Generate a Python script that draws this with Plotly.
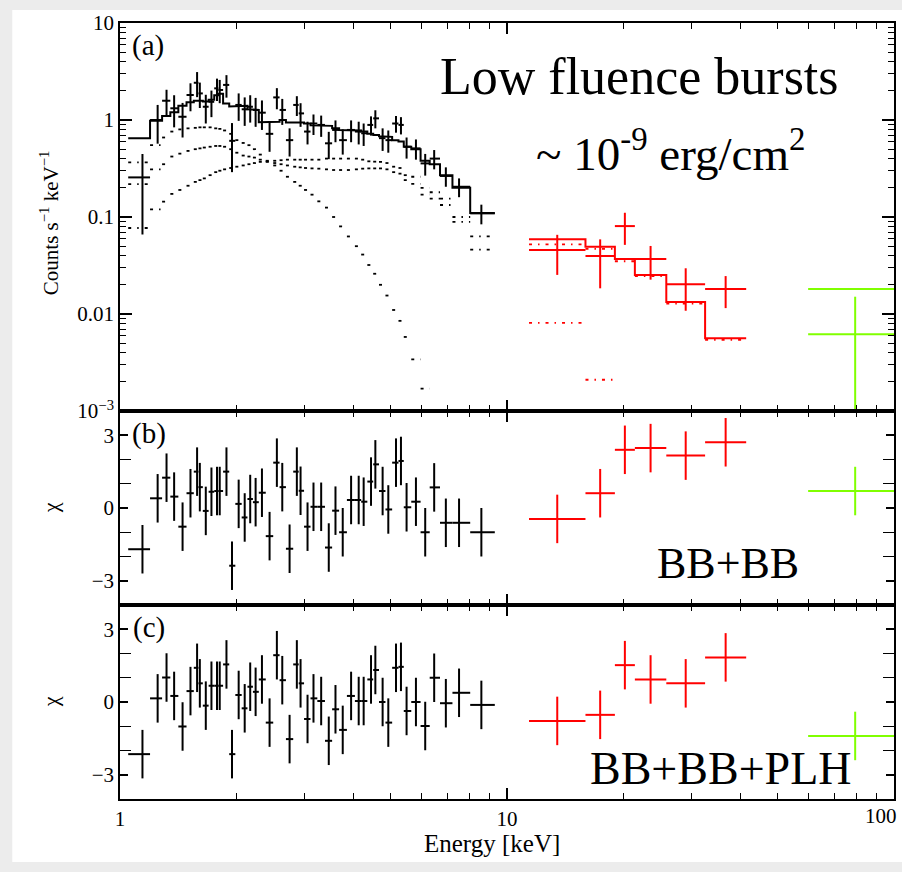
import numpy as np
import plotly.graph_objects as go
from plotly.subplots import make_subplots

# ---------------- data: soft instrument (black) ----------------
e_black = [1.143, 1.251, 1.319, 1.380, 1.451, 1.521, 1.582, 1.608, 1.666, 1.723,
           1.781, 1.810, 1.884, 1.947, 2.026, 2.100, 2.170, 2.241, 2.327, 2.435,
           2.543, 2.626, 2.743, 2.864, 2.928, 3.052, 3.162, 3.310, 3.463, 3.604,
           3.763, 3.955, 4.138, 4.262, 4.453, 4.569, 4.771, 4.935, 5.166, 5.321,
           5.502, 5.817, 6.147, 6.484, 6.950, 7.518, 8.585]
black_first_lo = 1.05
black_last_hi = 9.3
rate_black = [0.256, 1.00, 1.58, 1.32, 1.08, 1.81, 2.42, 1.88, 1.37, 1.54,
              2.12, 2.04, 2.30, 0.61, 1.43, 1.29, 1.37, 1.27, 1.19, 0.72,
              1.71, 1.27, 0.62, 1.43, 1.17, 0.76, 0.92, 0.89, 0.575, 0.79,
              0.62, 0.79, 0.76, 0.73, 0.89, 1.04, 0.65, 0.62, 0.92, 0.89,
              0.53, 0.51, 0.357, 0.40, 0.265, 0.205, 0.109]
err_black = [0.19, 0.43, 0.47, 0.48, 0.42, 0.58, 0.70, 0.55, 0.45, 0.47,
             0.55, 0.55, 0.60, 0.32, 0.45, 0.42, 0.43, 0.42, 0.40, 0.25,
             0.42, 0.38, 0.20, 0.33, 0.32, 0.20, 0.22, 0.22, 0.18, 0.20,
             0.18, 0.20, 0.20, 0.19, 0.20, 0.22, 0.17, 0.16, 0.18, 0.18,
             0.13, 0.12, 0.09, 0.09, 0.06, 0.045, 0.025]
model_black = [0.65, 0.98, 1.10, 1.20, 1.40, 1.52, 1.58, 1.58, 1.55, 1.62,
               1.80, 1.87, 1.48, 1.38, 1.40, 1.40, 1.29, 1.27, 0.95, 0.95,
               0.96, 1.00, 0.94, 0.94, 0.94, 0.92, 0.88, 0.87, 0.87, 0.82,
               0.79, 0.78, 0.78, 0.76, 0.72, 0.70, 0.68, 0.67, 0.62, 0.60,
               0.53, 0.50, 0.38, 0.35, 0.27, 0.20, 0.11]
comp_cool = [0.366, 0.55, 0.66, 0.76, 0.80, 0.82, 0.83, 0.84, 0.84, 0.84,
             0.82, 0.81, 0.78, 0.72, 0.62, 0.58, 0.55, 0.50, 0.44, 0.38,
             0.34, 0.30, 0.26, 0.23, 0.21, 0.19, 0.17, 0.145, 0.125, 0.10,
             0.08, 0.063, 0.05, 0.041, 0.032, 0.026, 0.02, 0.0155, 0.011, 0.0085,
             0.0058, 0.0034, 0.0017, None, None, None, None]
comp_mid = [0.218, 0.31, 0.35, 0.42, 0.45, 0.48, 0.50, 0.51, 0.52, 0.53,
            0.54, 0.54, 0.53, 0.50, 0.46, 0.43, 0.42, 0.41, 0.39, 0.37,
            0.36, 0.35, 0.34, 0.33, 0.325, 0.32, 0.317, 0.315, 0.31, 0.305,
            0.305, 0.305, 0.31, 0.315, 0.317, 0.317, 0.317, 0.31, 0.29, 0.28,
            0.24, 0.22, 0.17, 0.155, 0.133, 0.089, 0.046]
comp_hot = [0.077, 0.12, 0.144, 0.173, 0.19, 0.21, 0.23, 0.24, 0.25, 0.27,
            0.29, 0.30, 0.31, 0.32, 0.33, 0.34, 0.35, 0.36, 0.37, 0.375,
            0.38, 0.385, 0.39, 0.39, 0.39, 0.39, 0.39, 0.39, 0.40, 0.40,
            0.40, 0.40, 0.40, 0.39, 0.375, 0.372, 0.37, 0.36, 0.33, 0.32,
            0.27, 0.26, 0.20, 0.18, 0.155, 0.10, 0.063]
chi_b_black = [-1.70, 0.40, 1.25, 0.47, -0.77, 0.61, 1.50, 0.86, -0.12, 0.67,
               0.70, 0.70, 1.50, -2.38, 0.17, -0.39, 0.37, 0.24, 0.63, -1.16,
               1.87, 0.86, -1.68, 1.50, 0.71, -0.77, 0.05, 0.05, -1.63, -0.11,
               -1.00, 0.33, 0.33, 0.26, 1.09, 1.80, 0.70, -0.06, 1.87, 1.94,
               0.03, 0.26, -1.00, 0.85, -0.61, -0.61, -1.00]
chi_c_black = [-2.15, 0.15, 1.01, 0.25, -1.01, 0.45, 1.41, 0.77, -0.15, 0.67,
               0.67, 0.67, 1.55, -2.15, 0.29, -0.26, 0.63, 0.42, 0.93, -0.85,
               1.93, 0.90, -1.53, 1.55, 0.77, -0.70, 0.15, 0.04, -1.60, -0.30,
               -1.15, 0.25, 0.04, 0.04, 0.93, 1.32, 0.00, -0.85, 1.41, 1.45,
               -0.37, 0.00, -0.99, 1.00, -0.05, 0.38, -0.12]

# ---------------- data: hard instrument (red) ----------------
red_edges = [11.4, 15.95, 19.0, 21.4, 25.8, 32.5, 41.5]
rate_red = [0.0458, 0.0396, 0.0806, 0.0368, 0.0203, 0.0181]
err_red_up = [0.0197, 0.0192, 0.030, 0.0135, 0.0093, 0.0065]
err_red_dn = [0.0205, 0.0212, 0.029, 0.0142, 0.0095, 0.0066]
model_red = [0.0588, 0.0494, 0.0368, 0.0253, 0.0133, 0.00564]
comp_red_a = [0.0523, 0.047, 0.035, 0.0246, 0.0128, 0.0054]
comp_red_b = [0.0081, 0.0021, None, None, None, None]
chi_b_red = [-0.45, 0.61, 2.40, 2.47, 2.16, 2.71]
chi_c_red = [-0.78, -0.53, 1.52, 0.93, 0.77, 1.84]

# ---------------- data: highest-energy instrument (green) ----------------
green_edges = [60.0, 105.0]
rate_green = [0.00618]
err_green_up = [0.0089]
err_green_dn = [0.0060]
model_green = [0.0181]
chi_b_green = [0.70]
chi_c_green = [-1.40]

# x tick labels
x_tick_vals = [1, 10, 100]
x_tick_text = ["1", "10", "100"]

# ---------------- helpers ----------------
W, H = 902, 872
L, R, T, B = 120, 6, 23, 73
PW, PH = W - L - R, H - T - B


def px(x):
    return (x - L) / PW


def py(y):
    return (H - B - y) / PH


c_black = np.array(e_black)
mids = np.sqrt(c_black[:-1] * c_black[1:])
lo_black = np.concatenate([[black_first_lo], mids])
hi_black = np.concatenate([mids, [black_last_hi]])

re = np.array(red_edges)
lo_red, hi_red = re[:-1], re[1:]
c_red = np.sqrt(lo_red * hi_red)

ge = np.array(green_edges)
lo_green, hi_green = ge[:-1], ge[1:]
c_green = np.sqrt(lo_green * hi_green)


def step(lo, hi, vals, verticals=True):
    xs, ys = [], []
    for a, b, v in zip(lo, hi, vals):
        if v is None:
            xs += [None]
            ys += [None]
            continue
        xs += [a, b]
        ys += [v, v]
        if not verticals:
            xs += [None]
            ys += [None]
    return xs, ys


def cross(c, lo, hi, y, eu, ed, color):
    return go.Scatter(
        x=c, y=y, mode="markers",
        marker=dict(size=1, color=color, opacity=0),
        error_x=dict(type="data", symmetric=False, array=hi - c,
                     arrayminus=c - lo, width=0, thickness=2, color=color),
        error_y=dict(type="data", symmetric=False, array=eu,
                     arrayminus=ed, width=0, thickness=2, color=color),
        showlegend=False, hoverinfo="skip", cliponaxis=True)


BLACK, RED, GREEN = "#000000", "#ff0000", "#80ff00"
DOTS = "3px,6px,1.5px,6px"

fig = make_subplots(rows=3, cols=1, shared_xaxes=True, vertical_spacing=0,
                    row_heights=[0.5, 0.25, 0.25])

# ---- panel (a) ----
for comp in (comp_cool, comp_mid, comp_hot):
    xs, ys = step(lo_black, hi_black, comp, verticals=False)
    fig.add_trace(go.Scatter(x=xs, y=ys, mode="lines",
                             line=dict(color=BLACK, width=1.8, dash=DOTS),
                             showlegend=False, hoverinfo="skip"), row=1, col=1)
for comp in (comp_red_a, comp_red_b):
    xs, ys = step(lo_red, hi_red, comp, verticals=False)
    fig.add_trace(go.Scatter(x=xs, y=ys, mode="lines",
                             line=dict(color=RED, width=1.8, dash=DOTS),
                             showlegend=False, hoverinfo="skip"), row=1, col=1)

xs, ys = step(lo_black, hi_black, model_black)
fig.add_trace(go.Scatter(x=xs, y=ys, mode="lines", line=dict(color=BLACK, width=2),
                         showlegend=False, hoverinfo="skip"), row=1, col=1)
xs, ys = step(lo_red, hi_red, model_red)
fig.add_trace(go.Scatter(x=xs, y=ys, mode="lines", line=dict(color=RED, width=2),
                         showlegend=False, hoverinfo="skip"), row=1, col=1)
xs, ys = step(lo_green, hi_green, model_green)
fig.add_trace(go.Scatter(x=xs, y=ys, mode="lines", line=dict(color=GREEN, width=2),
                         showlegend=False, hoverinfo="skip"), row=1, col=1)

fig.add_trace(cross(c_black, lo_black, hi_black, rate_black, err_black, err_black, BLACK), row=1, col=1)
fig.add_trace(cross(c_red, lo_red, hi_red, rate_red, err_red_up, err_red_dn, RED), row=1, col=1)
fig.add_trace(cross(c_green, lo_green, hi_green, rate_green, err_green_up, err_green_dn, GREEN), row=1, col=1)

# ---- residual panels ----
ones_b = [1.0] * len(e_black)
ones_r = [1.0] * len(rate_red)
ones_g = [1.0] * len(rate_green)
for row, cb, cr, cg in ((2, chi_b_black, chi_b_red, chi_b_green),
                        (3, chi_c_black, chi_c_red, chi_c_green)):
    fig.add_hline(y=0, line=dict(color=BLACK, width=1.6, dash="9px,6px"), row=row, col=1)
    fig.add_trace(cross(c_black, lo_black, hi_black, cb, ones_b, ones_b, BLACK), row=row, col=1)
    fig.add_trace(cross(c_red, lo_red, hi_red, cr, ones_r, ones_r, RED), row=row, col=1)
    fig.add_trace(cross(c_green, lo_green, hi_green, cg, ones_g, ones_g, GREEN), row=row, col=1)

# ---- axes ----
FONT = "Liberation Serif"
minor_x = [v * d for d in (1, 10) for v in range(2, 10)]
for r in (1, 2, 3):
    fig.update_xaxes(type="log", range=[0, 2], showline=True, linecolor=BLACK, linewidth=1.6,
                     mirror="ticks", ticks="inside", ticklen=11, tickwidth=1.6, tickcolor=BLACK,
                     tickvals=x_tick_vals, ticktext=x_tick_text,
                     showticklabels=(r == 3), showgrid=False, zeroline=False,
                     tickfont=dict(family=FONT, size=21, color=BLACK),
                     minor=dict(ticks="inside", ticklen=6, tickwidth=1.3, tickcolor=BLACK,
                                tickvals=minor_x, showgrid=False),
                     row=r, col=1)

minor_ya = [v * 10.0 ** k for k in (-3, -2, -1, 0) for v in range(2, 10)]
fig.update_yaxes(type="log", range=[-3, 1], showline=True, linecolor=BLACK, linewidth=1.6,
                 mirror="ticks", ticks="inside", ticklen=12, tickwidth=1.6, tickcolor=BLACK,
                 tickvals=[0.001, 0.01, 0.1, 1, 10],
                 ticktext=["10<sup>−3</sup>", "0.01", "0.1", "1", "10"],
                 showgrid=False, zeroline=False,
                 tickfont=dict(family=FONT, size=21, color=BLACK),
                 minor=dict(ticks="inside", ticklen=6, tickwidth=1.3, tickcolor=BLACK,
                            tickvals=minor_ya, showgrid=False),
                 row=1, col=1)
for r in (2, 3):
    fig.update_yaxes(range=[-4, 4], showline=True, linecolor=BLACK, linewidth=1.6,
                     mirror="ticks", ticks="inside", ticklen=8, tickwidth=1.6, tickcolor=BLACK,
                     tickvals=[-3, 0, 3], ticktext=["−3", "0", "3"],
                     showgrid=False, zeroline=False,
                     tickfont=dict(family=FONT, size=21, color=BLACK),
                     minor=dict(ticks="inside", ticklen=11, tickwidth=1.3, tickcolor=BLACK,
                                tickvals=[-2, -1, 1, 2], showgrid=False),
                     row=r, col=1)

# ---- text ----
ann = []


def add_text(text, x, y, size, angle=0, xanchor="center"):
    ann.append(dict(text=text, x=px(x), y=py(y), xref="paper", yref="paper",
                    showarrow=False, xanchor=xanchor, yanchor="middle", textangle=angle,
                    font=dict(family=FONT, size=size, color=BLACK)))


add_text("(a)", 148, 45, 29)
add_text("(b)", 149, 433, 29)
add_text("(c)", 149, 627, 29)
add_text("Low fluence bursts", 641, 77, 52)
add_text("~ 10<sup>-9</sup> erg/cm<sup>2</sup>", 672, 150, 47)
add_text("BB+BB", 730, 563, 44)
add_text("BB+BB+PLH", 723, 768, 46)
add_text("Counts s<sup>−1</sup> keV<sup>−1</sup>", 50, 223, 21, angle=-90)
add_text("χ", 50, 508, 22, angle=-90)
add_text("χ", 50, 702, 22, angle=-90)
add_text("Energy [keV]", 493, 843, 25)
# the 100 label sits at the plot's right edge; keep it inside the page
add_text(x_tick_text[-1], 901, 816, 21, xanchor="right")

fig.update_layout(
    width=W, height=H, margin=dict(l=L, r=R, t=T, b=B),
    paper_bgcolor="#ececec", plot_bgcolor="#ffffff",
    annotations=ann, showlegend=False,
    shapes=[dict(type="rect", xref="paper", yref="paper", layer="below",
                 x0=px(12), x1=px(915), y0=py(862), y1=py(10),
                 fillcolor="#ffffff", line=dict(width=0))],
)

fig.write_html("out.html", config={"displayModeBar": False},
               post_script="document.body.style.margin='0px';"
                           "document.body.style.background='#ececec';")
